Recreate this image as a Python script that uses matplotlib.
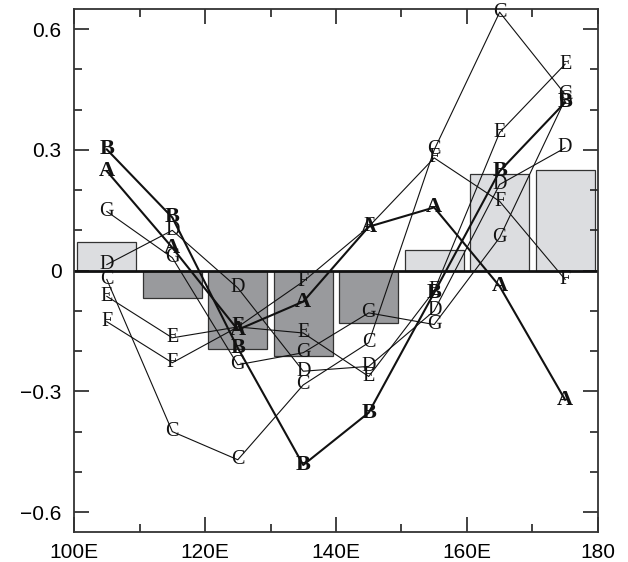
import matplotlib
matplotlib.use("Agg")
import matplotlib.pyplot as plt
from matplotlib.ticker import MultipleLocator

# longitudes of the box centres
lons = [105, 115, 125, 135, 145, 155, 165, 175]

# composite bar values
bar_vals = [0.072, -0.068, -0.195, -0.213, -0.131, 0.050, 0.239, 0.249]

# individual cases, labelled by letter
series_A = [0.247, 0.057, -0.147, -0.077, 0.109, 0.157, -0.039, -0.321]
series_B = [0.301, 0.132, -0.192, -0.483, -0.353, -0.055, 0.247, 0.418]
series_C = [-0.022, -0.400, -0.470, -0.284, -0.179, 0.300, 0.642, 0.438]
series_D = [0.015, 0.100, -0.043, -0.250, -0.238, -0.100, 0.214, 0.305]
series_E = [-0.064, -0.167, -0.140, -0.155, -0.263, -0.050, 0.343, 0.513]
series_F = [-0.127, -0.229, -0.140, -0.027, 0.109, 0.280, 0.172, -0.022]
series_G = [0.147, 0.032, -0.234, -0.204, -0.105, -0.134, 0.082, 0.425]

series = [
    ("A", series_A, True),
    ("B", series_B, True),
    ("C", series_C, False),
    ("D", series_D, False),
    ("E", series_E, False),
    ("F", series_F, False),
    ("G", series_G, False),
]

xtick_pos = [100, 120, 140, 160, 180]
xtick_labels = ["100E", "120E", "140E", "160E", "180"]
ytick_pos = [-0.6, -0.3, 0, 0.3, 0.6]
ytick_labels = ["\u22120.6", "\u22120.3", "0", "0.3", "0.6"]

fig = plt.figure(figsize=(6.28, 5.62), dpi=100)
ax = fig.add_axes([0.118, 0.053, 0.834, 0.931])

colors = ["#dcdde0" if v > 0 else "#999a9d" for v in bar_vals]
ax.bar(lons, bar_vals, width=9, color=colors, edgecolor="#333333",
       linewidth=0.9, zorder=1)
ax.axhline(0, color="#111111", linewidth=2.0, zorder=2)

for name, vals, bold in series:
    ax.plot(lons, vals, color="#111111", linewidth=1.5 if bold else 0.8,
            zorder=3)
    for x, y in zip(lons, vals):
        ax.text(x, y, name, ha="center", va="center",
                fontsize=16 if bold else 14.5,
                fontweight="bold" if bold else "normal",
                family="Liberation Serif", color="#111111", zorder=4)

ax.set_xlim(100, 180)
ax.set_ylim(-0.65, 0.65)
ax.set_xticks(xtick_pos)
ax.set_xticklabels(xtick_labels)
ax.set_yticks(ytick_pos)
ax.set_yticklabels(ytick_labels)
ax.xaxis.set_minor_locator(MultipleLocator(10))
ax.yaxis.set_minor_locator(MultipleLocator(0.1))

ax.tick_params(which="both", direction="in", top=True, right=True,
               width=1.2, color="#222222")
ax.tick_params(which="major", length=11, labelsize=15)
ax.tick_params(axis="x", which="major", pad=8)
ax.tick_params(axis="y", which="major", pad=9)
ax.tick_params(which="minor", length=6)
for lab in ax.get_xticklabels() + ax.get_yticklabels():
    lab.set_family("Liberation Sans")
for sp in ax.spines.values():
    sp.set_linewidth(1.3)
    sp.set_color("#333333")

fig.savefig("out.png", dpi=100)
